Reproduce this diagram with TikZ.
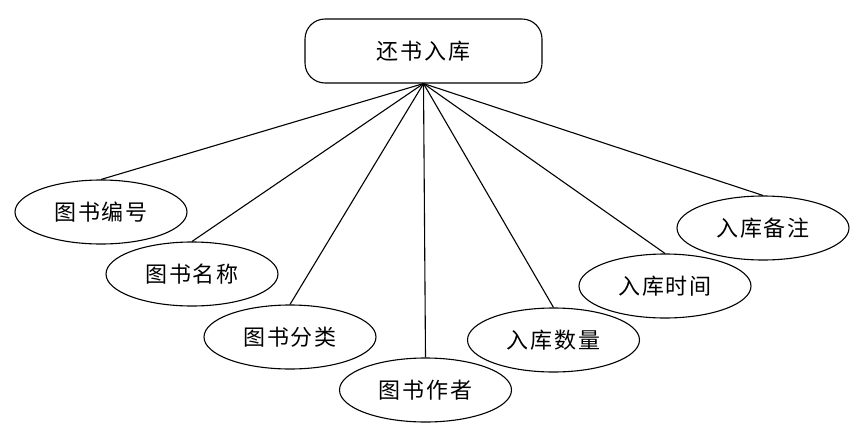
\documentclass[tikz,border=0pt]{standalone}
\usepackage{fontspec}
\setmainfont{Noto Sans CJK SC}[LetterSpace=8]
\usetikzlibrary{shapes.geometric}
\begin{document}
\begin{tikzpicture}[x=1pt,y=-1pt,
  attr/.style={draw, line width=1.1pt, ellipse, minimum width=172pt, minimum height=64pt, inner sep=0pt, font=\fontsize{22}{24}\selectfont},
  topbox/.style={draw, line width=1.1pt, rounded corners=20pt, minimum width=237pt, minimum height=64pt, inner sep=0pt, font=\fontsize{22}{24}\selectfont},
  link/.style={line width=1.1pt}]
\useasboundingbox (0,0) rectangle (865,437);
\node[topbox] (top) at (423.5,51) {还书入库};
\coordinate (apex) at (top.south);
\node[attr] (a1) at (101,212) {图书编号};
\node[attr] (a2) at (192,274) {图书名称};
\node[attr] (a3) at (290,337) {图书分类};
\node[attr] (a4) at (425.5,390) {图书作者};
\node[attr] (a5) at (553.5,340) {入库数量};
\node[attr] (a6) at (665,286) {入库时间};
\node[attr] (a7) at (763,228) {入库备注};
\foreach \n in {a1,a2,a3,a4,a5,a6,a7}{
  \draw[link] (apex) -- (\n.north);
}
\end{tikzpicture}
\end{document}
